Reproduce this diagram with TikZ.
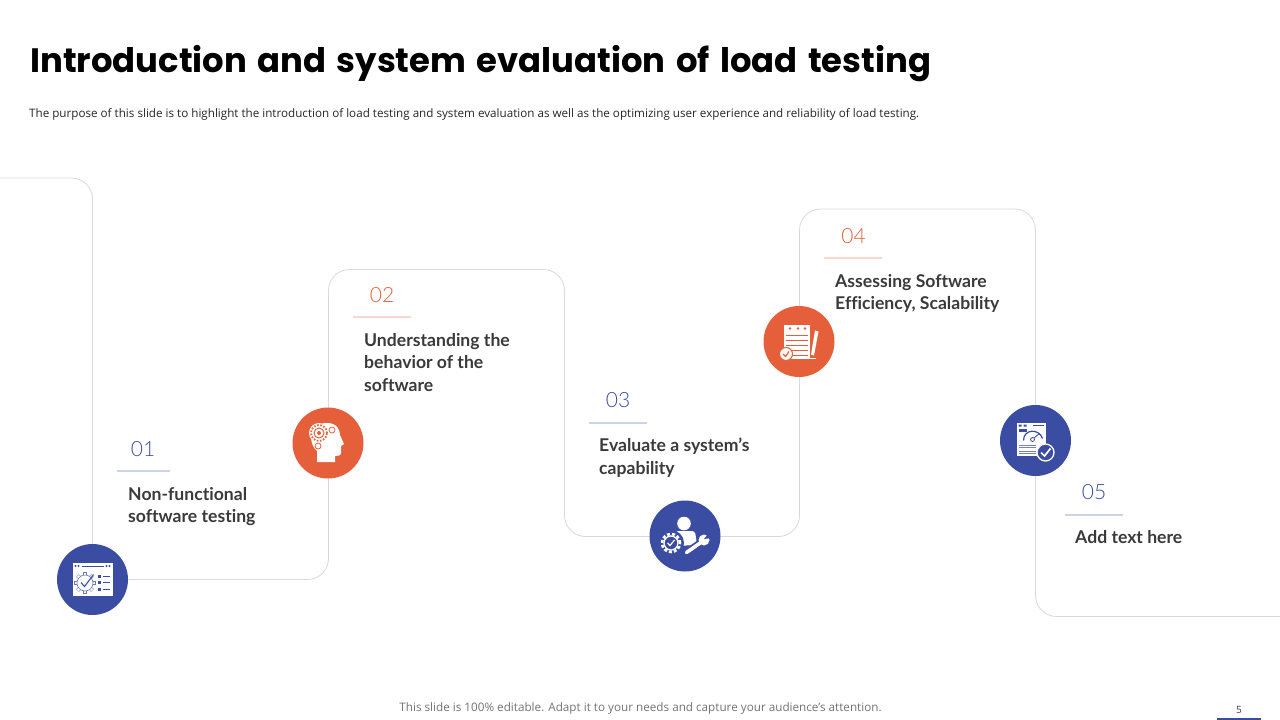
\documentclass[tikz,border=0pt]{standalone}
\usepackage{fontspec}
\setmainfont{Open Sans}
\newfontfamily\titlefont[WordSpace=1.45]{Poppins}
\newfontfamily\numfont{Lato Light}
\newfontfamily\labelfont[Ligatures=NoCommon]{Lato}
\usetikzlibrary{positioning}
\definecolor{stepblue}{HTML}{3B4DA3}
\definecolor{steporange}{HTML}{E5603A}
\definecolor{steptext}{HTML}{3A3A3A}
\tikzset{
    stepdot/.style={circle, minimum size=71pt, inner sep=0pt},
    stepnum/.style={font=\numfont\fontsize{21}{24}\selectfont, inner sep=0pt},
    steplabel/.style={font=\labelfont\bfseries\fontsize{17.6}{22.7}\selectfont, text=steptext, align=left, anchor=north west, inner sep=0pt},
}
\begin{document}
\begin{tikzpicture}[x=1pt, y=-1pt]
    \useasboundingbox (0, 0) rectangle (1280, 720);

    % Heading
    \node[anchor=base west, inner sep=0pt, font=\titlefont\bfseries\fontsize{33.85}{40}\selectfont] (title) at (30, 72.5) {Introduction and system evaluation of load testing};
    \node[anchor=base west, inner sep=0pt, font=\fontsize{11.65}{14}\selectfont, text=black!85] (subtitle) at (29, 117) {The purpose of this slide is to highlight the introduction of load testing and system evaluation as well as the optimizing user experience and reliability of load testing.};

    % Stepped outline
    \draw[black!15, line width=0.8pt, rounded corners=21pt] (-5, 178) -- (92.5, 178) -- (92.5, 579.5) -- (328.5, 579.5) -- (328.5, 269.5) -- (564.5, 269.5) -- (564.5, 536.5) -- (799.5, 536.5) -- (799.5, 209) -- (1035.5, 209) -- (1035.5, 616.5) -- (1290, 616.5);

    % Step 01
    \node[stepnum, text=stepblue] (num1) at (143, 449) {01};
    \draw[stepblue!25, line width=1.1pt] (117, 471) -- (170, 471);
    \node[steplabel] (text1) at (128, 487) {Non-functional\\software testing};

    % Step 02
    \node[stepnum, text=steporange] (num2) at (382, 295) {02};
    \draw[steporange!25, line width=1.1pt] (353, 317) -- (411, 317);
    \node[steplabel] (text2) at (364, 333) {Understanding the\\behavior of the\\software};

    % Step 03
    \node[stepnum, text=stepblue] (num3) at (618, 400) {03};
    \draw[stepblue!25, line width=1.1pt] (589, 423) -- (647, 423);
    \node[steplabel] (text3) at (599, 438) {Evaluate a system’s\\capability};

    % Step 04
    \node[stepnum, text=steporange] (num4) at (853.5, 236) {04};
    \draw[steporange!25, line width=1.1pt] (824, 258) -- (882, 258);
    \node[steplabel] (text4) at (835, 274) {Assessing Software\\Efficiency, Scalability};

    % Step 05
    \node[stepnum, text=stepblue] (num5) at (1094, 492) {05};
    \draw[stepblue!25, line width=1.1pt] (1065, 515) -- (1123, 515);
    \node[steplabel] (text5) at (1075, 530) {Add text here};

    % Circles
    \node[stepdot, fill=stepblue] (dot1) at (92.5, 579.5) {};
    \node[stepdot, fill=steporange] (dot2) at (328, 443) {};
    \node[stepdot, fill=stepblue] (dot3) at (685, 536) {};
    \node[stepdot, fill=steporange] (dot4) at (799, 341.5) {};
    \node[stepdot, fill=stepblue] (dot5) at (1035.5, 440.5) {};

    % Icon 1: window with gear
    \begin{scope}[shift={(dot1)}]
        \fill[white] (-19.5, -16.5) rectangle (20, 16.5);
        \fill[stepblue] (-17, -13.5) circle (1.2pt) (-14, -13.5) circle (1.2pt) (14, -13.5) circle (1.2pt) (17, -13.5) circle (1.2pt);
        \draw[stepblue, line width=0.6pt] (-11, -13.5) -- (11, -13.5);
        \foreach \a in {0,45,...,315} {
            \draw[stepblue!75, line width=3.8pt] (-7.5, 3.5) ++(\a:8) -- ++(\a:2.6);
            \draw[white, line width=2.6pt] (-7.5, 3.5) ++(\a:7.5) -- ++(\a:2.6);
        }
        \draw[stepblue!75, line width=0.6pt, fill=white] (-7.5, 3.5) circle (8pt);
        \draw[stepblue, line width=1.1pt] (-11.5, 3) -- (-8, 7) -- (1, -5);
        \foreach \yy in {-3.5, 3, 10} {
            \fill[stepblue] (5, \yy-1.5) rectangle (8, \yy+1.5);
            \draw[stepblue, line width=0.7pt] (10, \yy) -- (17, \yy);
        }
    \end{scope}

    % Icon 2: head with gears
    \begin{scope}[shift={(dot2)}]
        \fill[white] (-11, 19) -- (-11, 8) .. controls (-20, 1) and (-20, -20) .. (-1, -20) .. controls (9, -20) and (12, -13) .. (12, -8) -- (16, 1) -- (13, 3) -- (13, 10) .. controls (13, 13) and (9, 13) .. (7, 13) -- (7, 19) -- cycle;
        \fill[white] (-9, -10) circle (10pt);
        \draw[steporange, line width=1.8pt, dash pattern=on 1.6pt off 1.6pt] (-9, -10) circle (8pt);
        \draw[steporange, line width=1pt] (-9, -10) circle (5pt);
        \fill[steporange] (-9, -10) circle (2pt);
        \draw[steporange, line width=0.8pt] (-10, 3) circle (3pt);
        \draw[steporange, line width=0.8pt] (4, -13) circle (3pt);
    \end{scope}

    % Icon 3: person, gear and spanner
    \begin{scope}[shift={(dot3)}]
        \fill[white] (-1, -12.5) circle (6.8pt);
        \fill[white, rounded corners=3pt] (-10, 10) -- (-10, -5) -- (10, -5) -- (12, 9) -- cycle;
        \fill[stepblue] (-14, 7) circle (13pt);
        \draw[white, line width=2.6pt, dash pattern=on 3pt off 2pt] (-14, 7) circle (9pt);
        \draw[white, line width=1.3pt] (-14, 7) circle (7pt);
        \draw[white, line width=1.2pt] (-17.5, 7) -- (-15, 9.5) -- (-10.5, 4);
        \draw[stepblue, line width=7pt] (-1, 18) -- (18, 5);
        \draw[white, line width=3.6pt, line cap=round] (1.5, 16.5) -- (18, 5);
        \fill[white] (19, 4) circle (5.5pt);
        \fill[stepblue] (19, 3) -- (24, -3) -- (27, 2) -- cycle;
    \end{scope}

    % Icon 4: notepad and pencil
    \begin{scope}[shift={(dot4)}]
        \fill[white] (-15, -16.5) rectangle (11, 17);
        \fill[steporange] (-9, -13) circle (1.3pt) (-1, -13) circle (1.3pt) (6, -13) circle (1.3pt);
        \foreach \yy in {-6, -1, 4, 9, 14} {
            \draw[steporange, line width=0.8pt] (-13, \yy) -- (9, \yy);
        }
        \draw[white, line width=1pt] (-15, 17) -- (17, 17);
        \fill[white] (12, 13) -- (15, 14) -- (19.5, -10) -- (16, -11) -- cycle;
        \filldraw[fill=white, draw=steporange, line width=1pt] (-13, 12.5) circle (6.5pt);
        \draw[steporange, line width=1.2pt] (-16, 12.5) -- (-13.5, 15) -- (-10, 10);
    \end{scope}

    % Icon 5: browser gauge with tick
    \begin{scope}[shift={(dot5)}]
        \fill[white] (-18.5, -18) rectangle (10, 15);
        \fill[stepblue] (-17, -16) rectangle (-14, -14) (-12, -16) rectangle (-9, -14);
        \draw[stepblue, line width=0.8pt] (-3, -15) -- (8, -15);
        \fill[stepblue] (-17, -11.5) rectangle (-9, -9);
        \draw[stepblue, line width=1.2pt] (-12, 0) .. controls (-12, -12) and (4, -12) .. (7, -2);
        \draw[stepblue, line width=0.8pt] (-3, -1) circle (2pt) (-1.5, -2.5) -- (4, -7);
        \foreach \yy in {5, 7, 11, 13} {
            \draw[stepblue!70, line width=0.9pt] (-17, \yy) -- (0, \yy);
        }
        \filldraw[fill=stepblue, draw=white, line width=1.3pt] (10, 12) circle (8.5pt);
        \draw[white, line width=1.7pt] (5.5, 12) -- (9, 15.5) -- (15, 8);
    \end{scope}

    % Footer
    \node[anchor=base, inner sep=0pt, font=\fontsize{11.7}{14}\selectfont, text=black!55] (footer) at (640.5, 711) {This slide is 100\% editable. Adapt it to your needs and capture your audience’s attention.};
    \node[inner sep=0pt, font=\fontsize{10}{12}\selectfont, text=steptext] (pagenum) at (1239, 710) {5};
    \fill[stepblue] (1217, 718) rectangle (1261, 720);
\end{tikzpicture}
\end{document}
